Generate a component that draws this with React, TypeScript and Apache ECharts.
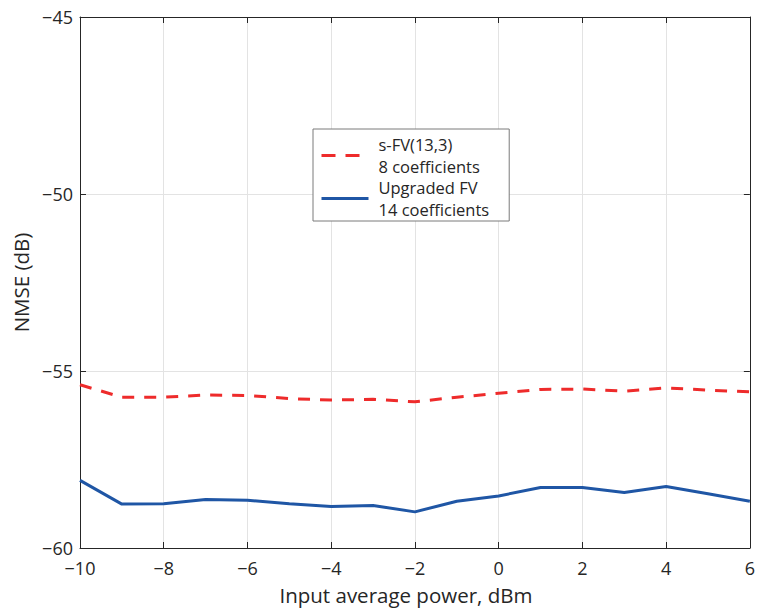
import React, { useEffect, useRef } from "react";
import * as echarts from "echarts";

const xValues = [-10, -9, -8, -7, -6, -5, -4, -3, -2, -1, 0, 1, 2, 3, 4, 5, 6];
const sfvValues = [-55.39, -55.74, -55.74, -55.68, -55.69, -55.78, -55.82, -55.8, -55.87, -55.74, -55.63, -55.52, -55.51, -55.57, -55.48, -55.54, -55.59];
const upgradedValues = [-58.09, -58.76, -58.75, -58.63, -58.65, -58.75, -58.83, -58.8, -58.98, -58.68, -58.53, -58.29, -58.29, -58.43, -58.26, -58.47, -58.68];
const seriesNames = ["s-FV(13,3)\n8 coefficients", "Upgraded FV\n14 coefficients"];
const xTitle = "Input average power, dBm";
const yTitle = "NMSE (dB)";

const FONT = "'Open Sans', sans-serif";
const TXT = "#262626";
const RED = "#ee2b2b";
const BLUE = "#1f56a5";

export default function App() {
  const ref = useRef<HTMLDivElement>(null);
  useEffect(() => {
    if (!ref.current) return;
    const chart = echarts.init(ref.current, null, { renderer: "svg" });
    const fmt = (v: number) => (v < 0 ? "\u2212" + Math.abs(v) : String(v));
    chart.setOption({
      animation: false,
      backgroundColor: "#ffffff",
      textStyle: { fontFamily: FONT },
      grid: { left: 80, right: 5, top: 17, bottom: 61, containLabel: false },
      legend: {
        orient: "vertical",
        left: 313,
        top: 129,
        padding: [5, 20, 1, 7],
        itemGap: 0,
        itemWidth: 47,
        itemHeight: 12,
        backgroundColor: "#ffffff",
        borderColor: "#7a7a7a",
        borderWidth: 1,
        borderRadius: 0,
        itemStyle: { opacity: 0 },
        textStyle: { fontFamily: FONT, fontSize: 16.5, color: TXT, lineHeight: 21.5, padding: [0, 0, 0, 5] },
        data: [
          { name: seriesNames[0], itemStyle: { opacity: 0 }, lineStyle: { type: [14, 10], color: RED, width: 3 } },
          { name: seriesNames[1], itemStyle: { opacity: 0 }, lineStyle: { color: BLUE, width: 3 } },
        ],
      },
      xAxis: [
        {
          type: "value",
          min: -10,
          max: 6,
          interval: 2,
          name: xTitle,
          nameLocation: "middle",
          nameGap: 36,
          nameTextStyle: { fontSize: 20.5, color: TXT, fontFamily: FONT, padding: [0, 18, 0, 0] },
          axisLine: { show: true, onZero: false, lineStyle: { color: TXT, width: 1 } },
          axisTick: { show: true, inside: true, length: 6, lineStyle: { color: TXT } },
          axisLabel: { fontSize: 18, color: TXT, margin: 11, formatter: fmt, fontFamily: FONT },
          splitLine: { show: true, lineStyle: { color: "#e3e3e3", width: 1 } },
        },
        {
          type: "value",
          position: "top",
          min: -10,
          max: 6,
          interval: 2,
          axisLine: { show: true, onZero: false, lineStyle: { color: TXT, width: 1 } },
          axisTick: { show: true, inside: true, length: 6, lineStyle: { color: TXT } },
          axisLabel: { show: false },
          splitLine: { show: false },
        },
      ],
      yAxis: [
        {
          type: "value",
          min: -60,
          max: -45,
          interval: 5,
          name: yTitle,
          nameLocation: "middle",
          nameGap: 49,
          nameTextStyle: { fontSize: 20.5, color: TXT, fontFamily: FONT },
          axisLine: { show: true, onZero: false, lineStyle: { color: TXT, width: 1 } },
          axisTick: { show: true, inside: true, length: 6, lineStyle: { color: TXT } },
          axisLabel: { fontSize: 18, color: TXT, margin: 7, formatter: fmt, fontFamily: FONT },
          splitLine: { show: true, lineStyle: { color: "#e3e3e3", width: 1 } },
        },
        {
          type: "value",
          position: "right",
          min: -60,
          max: -45,
          interval: 5,
          axisLine: { show: true, onZero: false, lineStyle: { color: TXT, width: 1 } },
          axisTick: { show: true, inside: true, length: 6, lineStyle: { color: TXT } },
          axisLabel: { show: false },
          splitLine: { show: false },
        },
      ],
      series: [
        {
          name: seriesNames[0],
          type: "line",
          data: xValues.map((x, i) => [x, sfvValues[i]]),
          showSymbol: false,
          symbol: "none",
          lineStyle: { color: RED, width: 3, type: [12, 10] },
          itemStyle: { color: RED },
        },
        {
          name: seriesNames[1],
          type: "line",
          data: xValues.map((x, i) => [x, upgradedValues[i]]),
          showSymbol: false,
          symbol: "none",
          lineStyle: { color: BLUE, width: 3 },
          itemStyle: { color: BLUE },
        },
      ],
    });
    return () => chart.dispose();
  }, []);
  return <div ref={ref} style={{ width: 758, height: 610, position: "absolute", left: 0, top: 0 }} />;
}
